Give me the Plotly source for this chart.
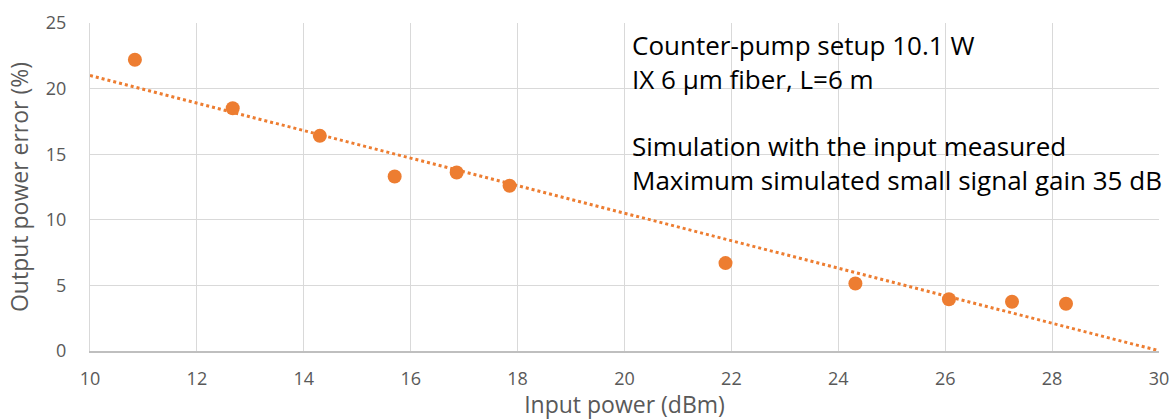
import numpy as np
import plotly.graph_objects as go

input_power_dbm = [10.84, 12.67, 14.30, 15.70, 16.86, 17.85, 21.89, 24.32, 26.07, 27.25, 28.26]
output_power_error_pct = [22.2, 18.5, 16.4, 13.3, 13.6, 12.6, 6.7, 5.15, 3.95, 3.75, 3.6]
x_ticks = [10, 12, 14, 16, 18, 20, 22, 24, 26, 28, 30]
y_ticks = [0, 5, 10, 15, 20, 25]
note_lines = [
    "Counter-pump setup 10.1 W",
    "IX 6 µm fiber, L=6 m",
    "",
    "Simulation with the input measured",
    "Maximum simulated small signal gain 35 dB",
]

ORANGE = "#ED7D31"
FONT = "'Open Sans', sans-serif"
GREY = "#595959"

slope, intercept = np.polyfit(input_power_dbm, output_power_error_pct, 1)
trend_x = [x_ticks[0], x_ticks[-1]]
trend_y = [slope * v + intercept for v in trend_x]

fig = go.Figure()
fig.add_trace(go.Scatter(
    x=trend_x, y=trend_y, mode="lines",
    line=dict(color=ORANGE, width=3, dash="dot"),
    hoverinfo="skip", showlegend=False,
))
fig.add_trace(go.Scatter(
    x=input_power_dbm, y=output_power_error_pct, mode="markers",
    marker=dict(color=ORANGE, size=14, line=dict(width=0)),
    showlegend=False,
))

fig.add_annotation(
    xref="paper", yref="paper", x=0.505, y=0.995,
    xanchor="left", yanchor="top", align="left",
    text="<br>".join(note_lines), showarrow=False,
    font=dict(family=FONT, size=26, color="#000000"),
)

fig.update_layout(
    width=1174, height=420,
    margin=dict(l=90, r=15, t=23, b=69),
    plot_bgcolor="white", paper_bgcolor="white",
    font=dict(family=FONT, size=18, color=GREY),
    xaxis=dict(
        range=[10, 30], tickvals=x_ticks, showgrid=True, gridcolor="#D9D9D9",
        gridwidth=1.3, zeroline=False, showline=True, linecolor="#BFBFBF", linewidth=1.5,
        ticks="", ticklabelstandoff=11, automargin=False,
        title=dict(text="Input power (dBm)", standoff=3, font=dict(size=23, color=GREY)),
    ),
    yaxis=dict(
        range=[0, 25], tickvals=y_ticks, showgrid=True, gridcolor="#D9D9D9",
        gridwidth=1.3, zeroline=False, showline=True, linecolor="#D9D9D9", linewidth=1.3,
        ticks="", ticklabelstandoff=19, automargin=False,
        title=dict(text="Output power error (%)", standoff=10, font=dict(size=23, color=GREY)),
    ),
)

fig.write_html("out.html")
